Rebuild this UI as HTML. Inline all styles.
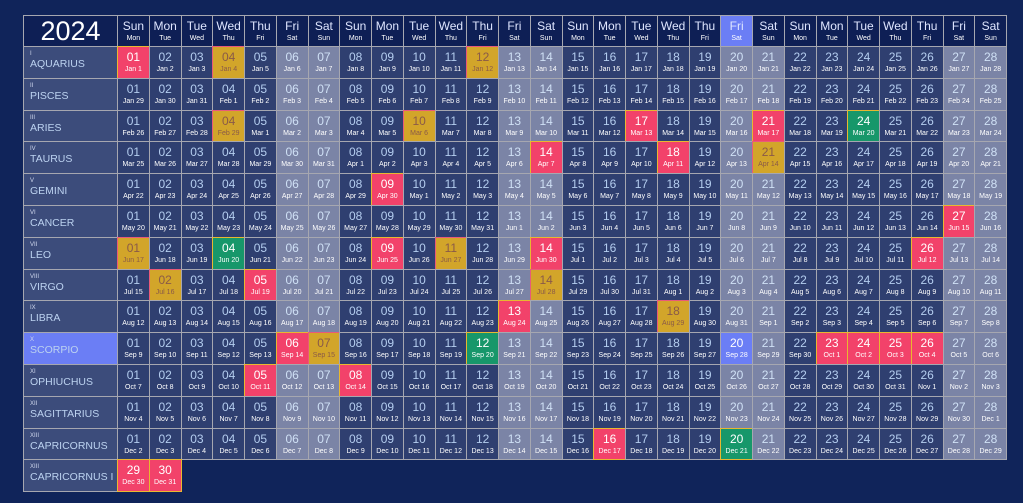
<!DOCTYPE html>
<html><head><meta charset="utf-8"><style>
body{margin:0;width:1023px;height:503px;background:#10245a;overflow:hidden;font-family:"Liberation Sans",sans-serif;position:relative}
.c{position:absolute;box-sizing:border-box;border:1px solid #a6a7b0;text-align:center;color:#fff;white-space:nowrap;overflow:hidden}
.h{background:#0e1f55}
.n{font-size:12px;line-height:12px;margin-top:4px;color:#b4cdef}
.d{font-size:7px;line-height:8px;margin-top:3px;color:#fff}
.hn{font-size:12px;line-height:12px;margin-top:4px;color:#dfe6ff}
.hd{font-size:7px;margin-top:3px;color:#fff}
.lab{background:#3c4c7b;text-align:left;padding-left:6px}
.r{font-size:6px;line-height:7px;margin-top:4px;color:#d0d8ee}
.nm{font-size:10.5px;line-height:13px;color:#bcd2f0}
</style></head><body>
<div id="g"></div>
<script>
var g=document.getElementById('g'),H='';
var X0=23,LW=94,CW=31.75,Y0=15,HH=31,RH=31.8;
function cell(x,y,w,h,cls,st,inner){H+='<div class="c '+cls+'" style="left:'+x+'px;top:'+y+'px;width:'+w+'px;height:'+h+'px;'+st+'">'+inner+'</div>';}
cell(X0,Y0,LW+1,HH+1,'h','','<div style="font-size:27px;line-height:27px;margin-top:2px;color:#fff">2024</div>');
var d1=['Sun','Mon','Tue','Wed','Thu','Fri','Sat'],d2=['Mon','Tue','Wed','Thu','Fri','Sat','Sun'];
for(var i=0;i<28;i++){var x=X0+LW+i*CW;cell(x,Y0,CW+1,HH+1,'h',i==19?'background:#6b7ef5':'','<div class="hn">'+d1[i%7]+'</div><div class="hd">'+d2[i%7]+'</div>');}
var names=['AQUARIUS','PISCES','ARIES','TAURUS','GEMINI','CANCER','LEO','VIRGO','LIBRA','SCORPIO','OPHIUCHUS','SAGITTARIUS','CAPRICORNUS','CAPRICORNUS I'];
var rom=['I','II','III','IV','V','VI','VII','VIII','IX','X','XI','XII','XIII','XIII'];
var M=['Jan','Feb','Mar','Apr','May','Jun','Jul','Aug','Sep','Oct','Nov','Dec'];
var R='background:#f2426a;border-color:#e8b830',G='background:#d2a52a;border-color:#e85a7a',N='background:#17976a;border-color:#e8b830',B='background:#6b7ef5';
var hl={0:{1:R,4:G,12:G},2:{4:G,10:G,17:R,21:R,24:N},3:{14:R,18:R,21:G},4:{9:R},5:{27:R},6:{1:G,4:N,9:R,11:G,14:R,26:R},7:{2:G,5:R,14:G},8:{13:R,18:G},9:{6:R,7:G,12:N,20:B,23:R,24:R,25:R,26:R},10:{5:R,8:R},12:{16:R,20:N}};
for(var r=0;r<14;r++){
 var y=Y0+HH+r*RH;
 cell(X0,y,LW+1,RH+1,'lab',r==9?'background:#6b7ef5':'','<div class="r">'+rom[r]+'</div><div class="nm">'+names[r]+'</div>');
 var cnt=r==13?2:28;
 for(var k=0;k<cnt;k++){
  var dn=r==13?29+k:k+1;var off=r==13?364+k:r*28+k;
  var dt=new Date(2024,0,1+off);
  var wk=[5,6,12,13,19,20,26,27].indexOf(k)>=0&&r<13;
  var st=wk?'background:#7b84a6':'background:#2f3f70';
  var h=(hl[r]||{})[dn];var nc='';
  if(r==13)h=R;
  if(h){st=h;nc='color:#fff';if(h==G)nc='color:#8a5a48';}
  var num=(dn<10?'0':'')+dn;
  cell(X0+LW+k*CW,y,CW+1,RH+1,'',st,'<div class="n" style="'+(nc||(wk?'color:#cfe0f5':''))+'">'+num+'</div><div class="d" style="'+(h==G?'color:#8a5a48':'')+'">'+M[dt.getMonth()]+' '+dt.getDate()+'</div>');
 }
}
g.innerHTML=H;
</script>
</body></html>
